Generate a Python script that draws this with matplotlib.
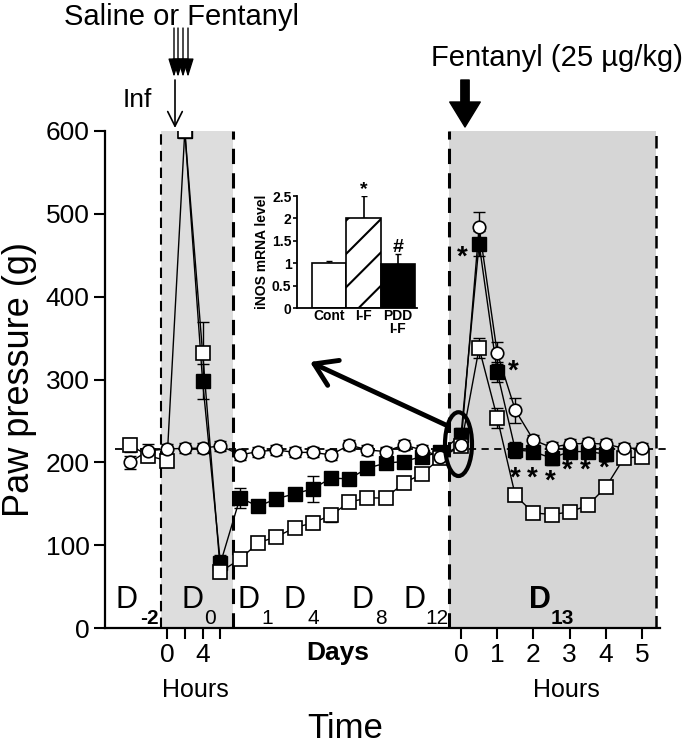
import numpy as np
import matplotlib.pyplot as plt
from matplotlib.patches import Ellipse

plt.rcParams['font.family'] = ['Liberation Sans', 'DejaVu Sans']
plt.rcParams['hatch.linewidth'] = 1.5

W, H = 685, 743

# --- time points (composite axis: D-2 baseline, D0 hours, days, D13 hours) ---
base_pts = [0, 1]
d0_hours = [0, 2, 4, 6]
days = list(range(1, 13))
d13_hours = [0, 0.5, 1, 1.5, 2, 2.5, 3, 3.5, 4, 4.5, 5]

# --- open circles ---
circ_base = [200, 214]
circ_d0 = [216, 217, 217, 220]
circ_days = [209, 213, 215, 212, 212, 209, 221, 215, 213, 221, 215, 207]
circ_d13 = [221, 484, 332, 263, 227, 218, 222, 223, 222, 217, 217]
circ_err = [8, 8] + [6, 6, 6, 6] + [6] * 12 + [6, 18, 13, 15, 6, 6, 6, 6, 6, 6, 6]

# --- open squares ---
sq_base = [221, 208]
sq_d0 = [202, 600, 332, 68]
sq_days = [83, 103, 110, 121, 127, 136, 152, 157, 157, 175, 186, 205]
sq_d13 = [220, 338, 254, 160, 139, 137, 140, 148, 170, 205, 207]
sq_err = [8, 8] + [8, 0, 38, 8] + [5, 5, 5, 6, 8, 8, 5, 5, 5, 6, 6, 6] + [6, 12, 12, 6, 5, 5, 5, 5, 5, 6, 6]

# --- filled squares ---
fill_base = [np.nan, np.nan]
fill_d0 = [np.nan, 600, 298, 78]
fill_days = [157, 147, 156, 162, 168, 181, 180, 193, 199, 201, 207, 212]
fill_d13 = [233, 464, 309, 215, 213, 205, 213, 213, 210, np.nan, np.nan]
fill_err = [0, 0] + [0, 0, 21, 10] + [12, 6, 6, 6, 16, 6, 6, 6, 6, 6, 6, 6] + [8, 15, 12, 10, 8, 8, 8, 8, 8, 0, 0]

# --- inset: iNOS mRNA ---
inset_labels = ['Cont', 'I-F', 'PDD\nI-F']
inset_vals = [1.0, 2.0, 0.98]
inset_err = [0.05, 0.5, 0.22]
inset_marks = ['', '*', '#']


def xpos():
    # piecewise mapping of the broken time axis onto the plot
    xb = [130 + 18 * t for t in base_pts]
    x0 = [167 + 8.9 * h for h in d0_hours]
    xd = [240 + 18.2 * (d - 1) for d in days]
    x13 = [461 + 36.2 * h for h in d13_hours]
    return np.array(xb + x0 + xd + x13)


x = xpos()
circ = np.array(circ_base + circ_d0 + circ_days + circ_d13, dtype=float)
sq = np.array(sq_base + sq_d0 + sq_days + sq_d13, dtype=float)
fill = np.array(fill_base + fill_d0 + fill_days + fill_d13, dtype=float)

fig = plt.figure(figsize=(W / 100, H / 100), dpi=100)
ax = fig.add_axes([105 / W, 1 - 628 / H, (660 - 105) / W, (628 - 131) / H])
ax.set_xlim(105, 660)
ax.set_ylim(0, 600)

# shaded periods and dashed borders
ax.axvspan(161, 233, color='#dddddd', zorder=0, lw=0)
ax.axvspan(449, 656, color='#d6d6d6', zorder=0, lw=0)
ax.vlines([161, 233, 449, 656], 0, 600, colors='k', linestyles=(0, (5, 3)),
          linewidths=[1.5, 2.2, 2.2, 1.8], zorder=1)
ax.hlines(216, 115, 666, colors='k', linestyles=(0, (4, 3)), linewidth=1.3,
          zorder=1, clip_on=False)

# lines
for y in (fill, sq, circ):
    ax.plot(x, y, color='k', lw=1, zorder=2)

# error bars
ax.errorbar(x, fill, yerr=fill_err, fmt='none', ecolor='k', elinewidth=1, capsize=4, zorder=2.5)
ax.errorbar(x, sq, yerr=sq_err, fmt='none', ecolor='k', elinewidth=1, capsize=4, zorder=2.5)
ax.errorbar(x, circ, yerr=circ_err, fmt='none', ecolor='k', elinewidth=1, capsize=4, zorder=2.5)

# markers
ax.plot(x, fill, 's', ms=10, mfc='k', mec='k', mew=1, zorder=3)
ax.plot(x, sq, 's', ms=10, mfc='white', mec='k', mew=1.2, zorder=4)
ax.plot(x, circ, 'o', ms=9, mfc='white', mec='k', mew=1.2, zorder=5)

# significance asterisks
stars = [(462, 447), (513, 310), (515, 180), (532, 180), (550, 177),
         (567, 190), (585, 190), (604, 192)]
for sx, sy in stars:
    ax.text(sx, sy, '*', ha='center', va='center', fontsize=20, fontweight='bold', zorder=6)

# axes styling
for s in ('top', 'right'):
    ax.spines[s].set_visible(False)
ax.spines['left'].set_linewidth(1.6)
ax.spines['bottom'].set_linewidth(1.6)
ax.set_yticks(range(0, 601, 100))
ax.tick_params(axis='y', labelsize=19, length=8, width=1.5, pad=3)
xt0 = [167 + 8.9 * h for h in d0_hours]
xt13 = [461 + 36.2 * h for h in range(6)]
ax.set_xticks(xt0 + xt13)
ax.set_xticklabels(['0', '', '4', ''] + [str(h) for h in range(6)])
ax.tick_params(axis='x', labelsize=19, length=8, width=1.5, pad=3)
ax.set_ylabel('Paw pressure (g)', fontsize=26, labelpad=6)

# day labels inside the plot
dlabels = [(127, 149, '-2', 'normal'), (192, 210, '0', 'normal'), (248, 267, '1', 'normal'),
           (295, 313, '4', 'normal'), (363, 381, '8', 'normal'), (415, 437, '12', 'normal'),
           (540, 562, '13', 'bold')]
for dx, sx, sub, fw in dlabels:
    ax.text(dx, 34, 'D', ha='center', va='center', fontsize=22, fontweight=fw, zorder=6)
    ax.text(sx, 12, sub, ha='center', va='center', fontsize=15,
            fontweight='bold' if sub in ('-2', '13') else 'normal', zorder=6)

# circled point + arrow to inset
ax.add_patch(Ellipse((458.5, 222), 27, 77, fill=False, lw=3, ec='k', zorder=7, clip_on=False))


def fp(px, py):
    return (px, H - py)


ax.annotate('', xy=fp(310, 362), xytext=fp(448, 426), xycoords='figure pixels',
            textcoords='figure pixels',
            arrowprops=dict(arrowstyle='->,head_length=0.7,head_width=0.45', lw=3.5,
                            color='k', mutation_scale=22, shrinkA=0, shrinkB=0))

# treatment arrows and texts
for ax_x in (174, 178, 183, 188):
    ax.annotate('', xy=fp(ax_x, 77), xytext=fp(ax_x, 28), xycoords='figure pixels',
                textcoords='figure pixels',
                arrowprops=dict(arrowstyle='-|>,head_length=0.8,head_width=0.25', lw=1,
                                color='k', mutation_scale=14, shrinkA=0, shrinkB=0))
ax.annotate('', xy=fp(175, 128), xytext=fp(175, 80), xycoords='figure pixels',
            textcoords='figure pixels',
            arrowprops=dict(arrowstyle='->,head_length=0.7,head_width=0.35', lw=1.2,
                            color='k', mutation_scale=15, shrinkA=0, shrinkB=0))
ax.annotate('', xy=fp(465, 127), xytext=fp(465, 80), xycoords='figure pixels',
            textcoords='figure pixels',
            arrowprops=dict(arrowstyle='simple,head_length=0.9,head_width=1.1,tail_width=0.3',
                            color='k', mutation_scale=20, shrinkA=0, shrinkB=0))

fig.text(181 / W, 1 - 17 / H, 'Saline or Fentanyl', ha='center', va='center', fontsize=21)
fig.text(137 / W, 1 - 100 / H, 'Inf', ha='center', va='center', fontsize=19)
fig.text(557 / W, 1 - 58 / H, 'Fentanyl (25 \u00b5g/kg)', ha='center', va='center', fontsize=21)
fig.text(338 / W, 1 - 653 / H, 'Days', ha='center', va='center', fontsize=19, fontweight='bold')
fig.text(195 / W, 1 - 690 / H, 'Hours', ha='center', va='center', fontsize=18)
fig.text(566 / W, 1 - 690 / H, 'Hours', ha='center', va='center', fontsize=18)
fig.text(345 / W, 1 - 728 / H, 'Time', ha='center', va='center', fontsize=25)

# inset bar chart
ins = fig.add_axes([297 / W, 1 - 308 / H, (417 - 297) / W, (308 - 196) / H])
ins.patch.set_alpha(0)
pos = np.arange(len(inset_vals))
ins.bar(pos, inset_vals, width=1, color=['white', 'white', 'black'], edgecolor='k',
        hatch=['', '/', ''], lw=1.2, zorder=2)
ins.errorbar(pos, inset_vals, yerr=[[0, 0, 0], inset_err], fmt='none', ecolor='k',
             elinewidth=1.2, capsize=2, zorder=1)
for p, v, e, m in zip(pos, inset_vals, inset_err, inset_marks):
    ins.text(p, v + e + 0.14, m, ha='center', va='center', fontsize=14, fontweight='bold')
ins.set_xlim(-0.94, 2.56)
ins.set_ylim(0, 2.5)
ins.set_yticks([0, 0.5, 1, 1.5, 2, 2.5])
ins.set_yticklabels(['0', '0.5', '1', '1.5', '2', '2.5'])
ins.set_xticks(pos)
ins.set_xticklabels(inset_labels, linespacing=0.9)
for s in ('top', 'right'):
    ins.spines[s].set_visible(False)
ins.spines['left'].set_linewidth(1.3)
ins.spines['bottom'].set_linewidth(1.3)
ins.tick_params(axis='y', labelsize=10, length=3, width=1.2, pad=1)
ins.tick_params(axis='x', labelsize=10, length=0, pad=1)
for t in ins.get_xticklabels() + ins.get_yticklabels():
    t.set_fontweight('bold')
ins.set_ylabel('iNOS mRNA level', fontsize=10, fontweight='bold', labelpad=2)

fig.savefig('out.png', dpi=100)
